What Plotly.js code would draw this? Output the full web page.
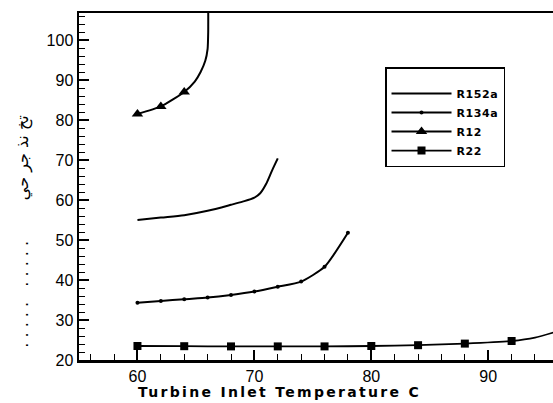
<!DOCTYPE html>
<html>
<head>
<meta charset="utf-8">
<script src="https://cdn.plot.ly/plotly-3.0.1.min.js"></script>
<style>
  html, body { margin: 0; padding: 0; background: #fff; }
  #chart { width: 553px; height: 403px; }
  .annotation[data-index="1"] text { letter-spacing: 2.3px; }
  .legendtext { letter-spacing: 0.6px; }
</style>
</head>
<body>
<div id="chart"></div>
<script>
// ---- data ----
const seriesNames = ["R152a", "R134a", "R12", "R22"];

const r152aX = [60, 62, 64, 66, 68, 69, 70, 70.5, 71, 71.5, 72];
const r152aY = [55.0, 55.6, 56.2, 57.3, 58.8, 59.6, 60.6, 61.7, 64.0, 67.3, 70.4];

const r134aX = [60, 62, 64, 66, 68, 70, 72, 74, 76, 78];
const r134aY = [34.3, 34.75, 35.2, 35.6, 36.25, 37.1, 38.3, 39.6, 43.3, 51.8];

const r12X = [60, 62, 64, 64.9, 65.4, 65.8, 66.0, 66.05, 66.05];
const r12Y = [81.5, 83.4, 87.0, 89.6, 92.0, 94.8, 97.8, 102.0, 110.0];
const r12Marked = [true, true, true, false, false, false, false, false, false];

const r22X = [60, 64, 68, 72, 76, 80, 84, 88, 92, 94, 95.6];
const r22Y = [23.5, 23.45, 23.4, 23.4, 23.4, 23.5, 23.7, 24.1, 24.75, 25.6, 26.9];
const r22Marked = [true, true, true, true, true, true, true, true, true, false, false];

const xTickVals = [60, 70, 80, 90];
const yTickVals = [20, 30, 40, 50, 60, 70, 80, 90, 100];

const xTitle = "Turbine Inlet Temperature C";
const yTitle = ". . . . .   . . . . .        تخ نذ جر حي";

// ---- traces ----
const black = "#000000";
const clear = "rgba(0,0,0,0)";
const traces = [
  {
    x: r152aX, y: r152aY, name: seriesNames[0], type: "scatter", mode: "lines",
    line: { color: black, width: 2, shape: "spline", smoothing: 0.8 }
  },
  {
    x: r134aX, y: r134aY, name: seriesNames[1], type: "scatter", mode: "lines+markers",
    line: { color: black, width: 2, shape: "spline", smoothing: 0.6 },
    marker: { symbol: "circle", size: 4, color: black }
  },
  {
    x: r12X, y: r12Y, name: seriesNames[2], type: "scatter", mode: "lines+markers",
    line: { color: black, width: 2, shape: "spline", smoothing: 0.6 },
    marker: { symbol: "triangle-up", size: 10, color: r12Marked.map(m => m ? black : clear), line: { width: 0 } }
  },
  {
    x: r22X, y: r22Y, name: seriesNames[3], type: "scatter", mode: "lines+markers",
    line: { color: black, width: 1.8, shape: "spline", smoothing: 0.6 },
    marker: { symbol: "square", size: 8, color: r22Marked.map(m => m ? black : clear), line: { width: 0 } }
  }
];

const axisCommon = {
  showgrid: false, zeroline: false,
  linecolor: black, linewidth: 2.5,
  ticks: "inside", ticklen: 10, tickwidth: 2, tickcolor: black,
  tickfont: { family: "Liberation Sans, Arial, sans-serif", size: 16, color: black },
  tickmode: "array"
};

const layout = {
  width: 553, height: 403,
  margin: { l: 79, r: 0, t: 13, b: 43, pad: 0 },
  paper_bgcolor: "#ffffff", plot_bgcolor: "#ffffff",
  showlegend: true,
  xaxis: Object.assign({}, axisCommon, {
    range: [55, 95.54],
    tickvals: xTickVals,
    mirror: true,
    minor: { dtick: 2, tick0: 0, ticks: "inside", ticklen: 6, tickwidth: 1, tickcolor: black, showgrid: false }
  }),
  yaxis: Object.assign({}, axisCommon, {
    range: [20, 106.75],
    tickvals: yTickVals,
    minor: { dtick: 2, tick0: 0, ticks: "inside", ticklen: 6, tickwidth: 1, tickcolor: black, showgrid: false }
  }),
  legend: {
    x: 0.6456, y: 0.844, xanchor: "left", yanchor: "top",
    bgcolor: "#ffffff", bordercolor: black, borderwidth: 1.5,
    font: { family: "DejaVu Sans, sans-serif", size: 11, color: black, weight: "bold" },
    itemwidth: 60,
    tracegroupgap: 0,
    title: { text: "\u00a0", font: { size: 8 } }
  },
  annotations: [
    {
      text: yTitle, xref: "paper", yref: "paper",
      x: -0.118, y: 0.37, xanchor: "center", yanchor: "middle",
      textangle: -90, showarrow: false,
      font: { family: "DejaVu Sans, sans-serif", size: 16, color: black }
    },
    {
      text: "<b>" + xTitle + "</b>", xref: "paper", yref: "paper",
      x: 0.424, y: -0.093, xanchor: "center", yanchor: "middle",
      showarrow: false,
      font: { family: "DejaVu Sans, sans-serif", size: 14, color: black }
    }
  ]
};

Plotly.newPlot("chart", traces, layout, { staticPlot: true, displayModeBar: false });
</script>
</body>
</html>
